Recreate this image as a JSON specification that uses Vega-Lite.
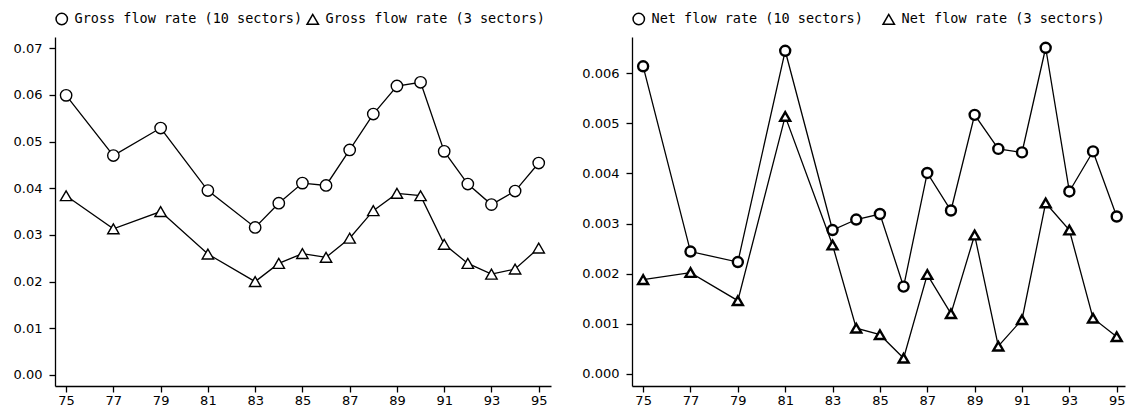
{
  "$schema": "https://vega.github.io/schema/vega-lite/v6.json",
  "padding": {"left": 13, "top": 12, "right": 0, "bottom": 0},
  "spacing": 30,
  "background": "white",
  "config": {
    "view": {"stroke": null},
    "axis": {
      "grid": false,
      "domainColor": "black",
      "domainWidth": 1.3,
      "tickColor": "black",
      "tickWidth": 1.3,
      "tickSize": 6,
      "labelColor": "black",
      "labelFont": "DejaVu Sans",
      "labelFontSize": 13,
      "title": null
    },
    "axisY": {"labelPadding": 7},
    "axisX": {"labelPadding": 2},
    "legend": {
      "orient": "top",
      "direction": "horizontal",
      "title": null,
      "labelFont": "DejaVu Sans Mono",
      "labelFontSize": 13.5,
      "labelColor": "black",
      "labelLimit": 500,
      "labelOffset": 6,
      "symbolSize": 130,
      "offset": 9
    }
  },
  "datasets": {
    "gross": [
      {"year": 75, "series": "Gross flow rate (10 sectors)", "rate": 0.0599},
      {"year": 77, "series": "Gross flow rate (10 sectors)", "rate": 0.0470},
      {"year": 79, "series": "Gross flow rate (10 sectors)", "rate": 0.0529},
      {"year": 81, "series": "Gross flow rate (10 sectors)", "rate": 0.0395},
      {"year": 83, "series": "Gross flow rate (10 sectors)", "rate": 0.0316},
      {"year": 84, "series": "Gross flow rate (10 sectors)", "rate": 0.0368},
      {"year": 85, "series": "Gross flow rate (10 sectors)", "rate": 0.0411},
      {"year": 86, "series": "Gross flow rate (10 sectors)", "rate": 0.0406},
      {"year": 87, "series": "Gross flow rate (10 sectors)", "rate": 0.0482},
      {"year": 88, "series": "Gross flow rate (10 sectors)", "rate": 0.0559},
      {"year": 89, "series": "Gross flow rate (10 sectors)", "rate": 0.0619},
      {"year": 90, "series": "Gross flow rate (10 sectors)", "rate": 0.0627},
      {"year": 91, "series": "Gross flow rate (10 sectors)", "rate": 0.0479},
      {"year": 92, "series": "Gross flow rate (10 sectors)", "rate": 0.0409},
      {"year": 93, "series": "Gross flow rate (10 sectors)", "rate": 0.0365},
      {"year": 94, "series": "Gross flow rate (10 sectors)", "rate": 0.0394},
      {"year": 95, "series": "Gross flow rate (10 sectors)", "rate": 0.0454},
      {"year": 75, "series": "Gross flow rate (3 sectors)", "rate": 0.0384},
      {"year": 77, "series": "Gross flow rate (3 sectors)", "rate": 0.0313},
      {"year": 79, "series": "Gross flow rate (3 sectors)", "rate": 0.0350},
      {"year": 81, "series": "Gross flow rate (3 sectors)", "rate": 0.0259},
      {"year": 83, "series": "Gross flow rate (3 sectors)", "rate": 0.0200},
      {"year": 84, "series": "Gross flow rate (3 sectors)", "rate": 0.0239},
      {"year": 85, "series": "Gross flow rate (3 sectors)", "rate": 0.0260},
      {"year": 86, "series": "Gross flow rate (3 sectors)", "rate": 0.0252},
      {"year": 87, "series": "Gross flow rate (3 sectors)", "rate": 0.0293},
      {"year": 88, "series": "Gross flow rate (3 sectors)", "rate": 0.0352},
      {"year": 89, "series": "Gross flow rate (3 sectors)", "rate": 0.0389},
      {"year": 90, "series": "Gross flow rate (3 sectors)", "rate": 0.0384},
      {"year": 91, "series": "Gross flow rate (3 sectors)", "rate": 0.0280},
      {"year": 92, "series": "Gross flow rate (3 sectors)", "rate": 0.0239},
      {"year": 93, "series": "Gross flow rate (3 sectors)", "rate": 0.0216},
      {"year": 94, "series": "Gross flow rate (3 sectors)", "rate": 0.0227},
      {"year": 95, "series": "Gross flow rate (3 sectors)", "rate": 0.0272}
    ],
    "net": [
      {"year": 75, "series": "Net flow rate (10 sectors)", "rate": 0.00614},
      {"year": 77, "series": "Net flow rate (10 sectors)", "rate": 0.00244},
      {"year": 79, "series": "Net flow rate (10 sectors)", "rate": 0.00223},
      {"year": 81, "series": "Net flow rate (10 sectors)", "rate": 0.00645},
      {"year": 83, "series": "Net flow rate (10 sectors)", "rate": 0.00287},
      {"year": 84, "series": "Net flow rate (10 sectors)", "rate": 0.00308},
      {"year": 85, "series": "Net flow rate (10 sectors)", "rate": 0.00319},
      {"year": 86, "series": "Net flow rate (10 sectors)", "rate": 0.00174},
      {"year": 87, "series": "Net flow rate (10 sectors)", "rate": 0.00401},
      {"year": 88, "series": "Net flow rate (10 sectors)", "rate": 0.00326},
      {"year": 89, "series": "Net flow rate (10 sectors)", "rate": 0.00517},
      {"year": 90, "series": "Net flow rate (10 sectors)", "rate": 0.00449},
      {"year": 91, "series": "Net flow rate (10 sectors)", "rate": 0.00442},
      {"year": 92, "series": "Net flow rate (10 sectors)", "rate": 0.00651},
      {"year": 93, "series": "Net flow rate (10 sectors)", "rate": 0.00364},
      {"year": 94, "series": "Net flow rate (10 sectors)", "rate": 0.00444},
      {"year": 95, "series": "Net flow rate (10 sectors)", "rate": 0.00314},
      {"year": 75, "series": "Net flow rate (3 sectors)", "rate": 0.00188},
      {"year": 77, "series": "Net flow rate (3 sectors)", "rate": 0.00202},
      {"year": 79, "series": "Net flow rate (3 sectors)", "rate": 0.00146},
      {"year": 81, "series": "Net flow rate (3 sectors)", "rate": 0.00514},
      {"year": 83, "series": "Net flow rate (3 sectors)", "rate": 0.00257},
      {"year": 84, "series": "Net flow rate (3 sectors)", "rate": 0.00091},
      {"year": 85, "series": "Net flow rate (3 sectors)", "rate": 0.00078},
      {"year": 86, "series": "Net flow rate (3 sectors)", "rate": 0.00031},
      {"year": 87, "series": "Net flow rate (3 sectors)", "rate": 0.00198},
      {"year": 88, "series": "Net flow rate (3 sectors)", "rate": 0.00120},
      {"year": 89, "series": "Net flow rate (3 sectors)", "rate": 0.00277},
      {"year": 90, "series": "Net flow rate (3 sectors)", "rate": 0.00055},
      {"year": 91, "series": "Net flow rate (3 sectors)", "rate": 0.00108},
      {"year": 92, "series": "Net flow rate (3 sectors)", "rate": 0.00341},
      {"year": 93, "series": "Net flow rate (3 sectors)", "rate": 0.00287},
      {"year": 94, "series": "Net flow rate (3 sectors)", "rate": 0.00111},
      {"year": 95, "series": "Net flow rate (3 sectors)", "rate": 0.00074}
    ]
  },
  "resolve": {"scale": {"shape": "independent", "x": "independent", "y": "independent"}, "legend": {"shape": "independent"}},
  "hconcat": [
    {
      "width": 496,
      "height": 349,
      "data": {"name": "gross"},
      "encoding": {
        "x": {"field": "year", "type": "quantitative", "scale": {"domain": [74.53, 95.52], "nice": false, "zero": false},
              "axis": {"values": [75, 77, 79, 81, 83, 85, 87, 89, 91, 93, 95], "format": "d"}},
        "y": {"field": "rate", "type": "quantitative", "scale": {"domain": [-0.00236, 0.0724], "nice": false, "zero": false},
              "axis": {"values": [0, 0.01, 0.02, 0.03, 0.04, 0.05, 0.06, 0.07], "format": ".2f"}}
      },
      "layer": [
        {"mark": {"type": "line", "color": "black", "strokeWidth": 1.3},
         "encoding": {"detail": {"field": "series"}}},
        {"mark": {"type": "point", "filled": false, "fill": "white", "color": "black", "strokeWidth": 1.4, "size": 130, "opacity": 1, "fillOpacity": 1},
         "encoding": {"shape": {"field": "series", "type": "nominal",
           "scale": {"domain": ["Gross flow rate (10 sectors)", "Gross flow rate (3 sectors)"], "range": ["circle", "triangle-up"]},
           "legend": {"columnPadding": 1,
             "encode": {"symbols": {"update": {"stroke": {"value": "black"}, "fill": {"value": "white"}, "strokeWidth": {"value": 1.4}}}}}}}}
      ]
    },
    {
      "width": 493,
      "height": 349,
      "data": {"name": "net"},
      "encoding": {
        "x": {"field": "year", "type": "quantitative", "scale": {"domain": [74.53, 95.35], "nice": false, "zero": false},
              "axis": {"values": [75, 77, 79, 81, 83, 85, 87, 89, 91, 93, 95], "format": "d"}},
        "y": {"field": "rate", "type": "quantitative", "scale": {"domain": [-0.000245, 0.006725], "nice": false, "zero": false},
              "axis": {"values": [0, 0.001, 0.002, 0.003, 0.004, 0.005, 0.006], "format": ".3f"}}
      },
      "layer": [
        {"mark": {"type": "line", "color": "black", "strokeWidth": 1.3},
         "encoding": {"detail": {"field": "series"}}},
        {"mark": {"type": "point", "filled": false, "fill": "white", "color": "black", "strokeWidth": 2.4, "size": 100, "opacity": 1, "fillOpacity": 1},
         "encoding": {"shape": {"field": "series", "type": "nominal",
           "scale": {"domain": ["Net flow rate (10 sectors)", "Net flow rate (3 sectors)"], "range": ["circle", "triangle-up"]},
           "legend": {"columnPadding": 17,
             "encode": {"symbols": {"update": {"stroke": {"value": "black"}, "fill": {"value": "white"}, "strokeWidth": {"value": 1.4}}}}}}}}
      ]
    }
  ]
}
